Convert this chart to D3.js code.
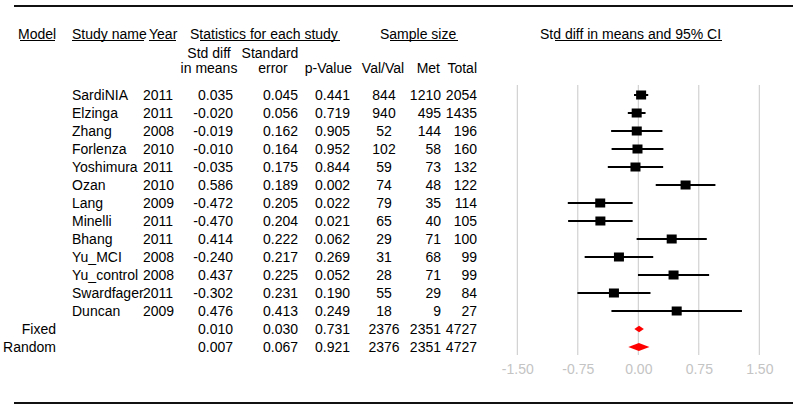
<!DOCTYPE html>
<html>
<head>
<meta charset="utf-8">
<script src="https://cdn.jsdelivr.net/npm/d3@7"></script>
<style>
    body { margin: 0; background: #fff; }
    svg { display: block; font-family: "Liberation Sans", Arial, sans-serif; font-size: 14px; }
</style>
</head>
<body>
<svg id="chart"></svg>
<script>
const studies = ["SardiNIA", "Elzinga", "Zhang", "Forlenza", "Yoshimura", "Ozan", "Lang", "Minelli",
                 "Bhang", "Yu_MCI", "Yu_control", "Swardfager", "Duncan"];
const years = [2011, 2011, 2008, 2010, 2011, 2010, 2009, 2011, 2011, 2008, 2008, 2011, 2009];
const models = ["Fixed", "Random"];

// studies first, then the two pooled rows
const stdDiff = [0.035, -0.020, -0.019, -0.010, -0.035, 0.586, -0.472, -0.470, 0.414, -0.240, 0.437, -0.302, 0.476, 0.010, 0.007];
const stdErr = [0.045, 0.056, 0.162, 0.164, 0.175, 0.189, 0.205, 0.204, 0.222, 0.217, 0.225, 0.231, 0.413, 0.030, 0.067];
const pValue = [0.441, 0.719, 0.905, 0.952, 0.844, 0.002, 0.022, 0.021, 0.062, 0.269, 0.052, 0.190, 0.249, 0.731, 0.921];
const ciLow = [-0.053, -0.130, -0.337, -0.331, -0.378, 0.216, -0.874, -0.870, -0.021, -0.665, -0.004, -0.755, -0.333, -0.049, -0.124];
const ciHigh = [0.123, 0.090, 0.299, 0.311, 0.308, 0.956, -0.070, -0.070, 0.849, 0.185, 0.878, 0.151, 1.285, 0.069, 0.138];
const nVal = [844, 940, 52, 102, 59, 74, 79, 65, 29, 31, 28, 55, 18, 2376, 2376];
const nMet = [1210, 495, 144, 58, 73, 48, 35, 40, 71, 68, 71, 29, 9, 2351, 2351];
const nTotal = [2054, 1435, 196, 160, 132, 122, 114, 105, 100, 99, 99, 84, 27, 4727, 4727];

const tickValues = [-1.5, -0.75, 0, 0.75, 1.5];
const tickLabels = ["-1.50", "-0.75", "0.00", "0.75", "1.50"];

const width = 799, height = 410;
const svg = d3.select("#chart").attr("width", width).attr("height", height);

const loc = d3.formatLocale({decimal: ".", thousands: ",", grouping: [3], currency: ["", ""], minus: "-"});
const f3 = loc.format(".3f");

const rows = studies.concat(models);
const y = d3.scalePoint().domain(rows).range([95, 347]);
const x = d3.scaleLinear().domain([-1.5, 1.5]).range([517.3, 759.3]);

// frame lines
svg.append("line").attr("x1", 14).attr("x2", 793).attr("y1", 6).attr("y2", 6)
    .attr("stroke", "#111").attr("stroke-width", 2);
svg.append("line").attr("x1", 14).attr("x2", 793).attr("y1", 403).attr("y2", 403)
    .attr("stroke", "#111").attr("stroke-width", 2);

// headers
const head = svg.append("g").attr("fill", "#000");
const headers = [
    {t: "Model", x: 18, y: 38.5, a: "start"},
    {t: "Study name", x: 72, y: 38.5, a: "start"},
    {t: "Year", x: 149, y: 38.5, a: "start"},
    {t: "Statistics for each study", x: 190, y: 38.5, a: "start"},
    {t: "Sample size", x: 380, y: 38.5, a: "start"},
    {t: "Std diff in means and 95% CI", x: 540, y: 38.5, a: "start"},
    {t: "Std diff", x: 209, y: 58, a: "middle"},
    {t: "in means", x: 209, y: 72.5, a: "middle"},
    {t: "Standard", x: 270, y: 58, a: "middle"},
    {t: "error", x: 273, y: 72.5, a: "middle"},
    {t: "p-Value", x: 352, y: 72.5, a: "end"},
    {t: "Val/Val", x: 383, y: 72.5, a: "middle"},
    {t: "Met", x: 440, y: 72.5, a: "end"},
    {t: "Total", x: 477, y: 72.5, a: "end"}
];
head.selectAll("text").data(headers).join("text")
    .attr("x", d => d.x).attr("y", d => d.y)
    .attr("text-anchor", d => d.a)
    .text(d => d.t);

const underlines = [[20, 55], [72, 144], [149, 176], [200, 340], [390, 458], [555, 722]];
head.selectAll("line").data(underlines).join("line")
    .attr("x1", d => d[0]).attr("x2", d => d[1])
    .attr("y1", 40.5).attr("y2", 40.5)
    .attr("stroke", "#000").attr("stroke-width", 1);

// table body
const body = svg.append("g");
const cols = [
    {x: 233, a: "end", v: i => f3(stdDiff[i])},
    {x: 298, a: "end", v: i => f3(stdErr[i])},
    {x: 350, a: "end", v: i => f3(pValue[i])},
    {x: 384, a: "middle", v: i => nVal[i]},
    {x: 441, a: "end", v: i => nMet[i]},
    {x: 477, a: "end", v: i => nTotal[i]}
];

rows.forEach((r, i) => {
    const by = y(r) + 5;
    if (i < studies.length) {
        body.append("text").attr("x", 72).attr("y", by).text(r);
        body.append("text").attr("x", 143).attr("y", by).text(years[i]);
    } else {
        body.append("text").attr("x", 56).attr("y", by).attr("text-anchor", "end").text(r);
    }
    cols.forEach(c => {
        body.append("text").attr("x", c.x).attr("y", by)
            .attr("text-anchor", c.a).text(c.v(i));
    });
});

// plot grid
const plot = svg.append("g");
plot.selectAll("line.grid").data(tickValues).join("line")
    .attr("class", "grid")
    .attr("x1", d => x(d)).attr("x2", d => x(d))
    .attr("y1", 85).attr("y2", 355)
    .attr("stroke", "#c8c8c8").attr("stroke-width", 1);

const axis = d3.axisBottom(x)
    .tickValues(tickValues)
    .tickFormat((d, i) => tickLabels[i])
    .tickSize(0)
    .tickPadding(0);
const ax = svg.append("g").attr("transform", "translate(0,363)").call(axis);
ax.select(".domain").remove();
ax.selectAll("text")
    .attr("fill", "#c4c4c4")
    .attr("dy", "0.75em")
    .style("font-family", "'Liberation Sans', Arial, sans-serif")
    .style("font-size", "14px");

// study CIs and squares
const idx = d3.range(studies.length);
plot.selectAll("line.ci").data(idx).join("line")
    .attr("class", "ci")
    .attr("x1", i => x(ciLow[i])).attr("x2", i => x(ciHigh[i]))
    .attr("y1", i => y(rows[i])).attr("y2", i => y(rows[i]))
    .attr("stroke", "#000").attr("stroke-width", 2);
plot.selectAll("rect.pt").data(idx).join("rect")
    .attr("class", "pt")
    .attr("x", i => x(stdDiff[i]) - 5).attr("y", i => y(rows[i]) - 4.5)
    .attr("width", 10).attr("height", 9)
    .attr("fill", "#000");

// pooled diamonds
const pooled = [studies.length, studies.length + 1];
const halfH = [3.2, 4];
plot.selectAll("path.dia").data(pooled).join("path")
    .attr("class", "dia")
    .attr("d", (i, k) => {
        const cy = y(rows[i]), h = halfH[k];
        return `M${x(ciLow[i])},${cy}L${x(stdDiff[i])},${cy - h}L${x(ciHigh[i])},${cy}L${x(stdDiff[i])},${cy + h}Z`;
    })
    .attr("fill", "#ff0000");
</script>
</body>
</html>
